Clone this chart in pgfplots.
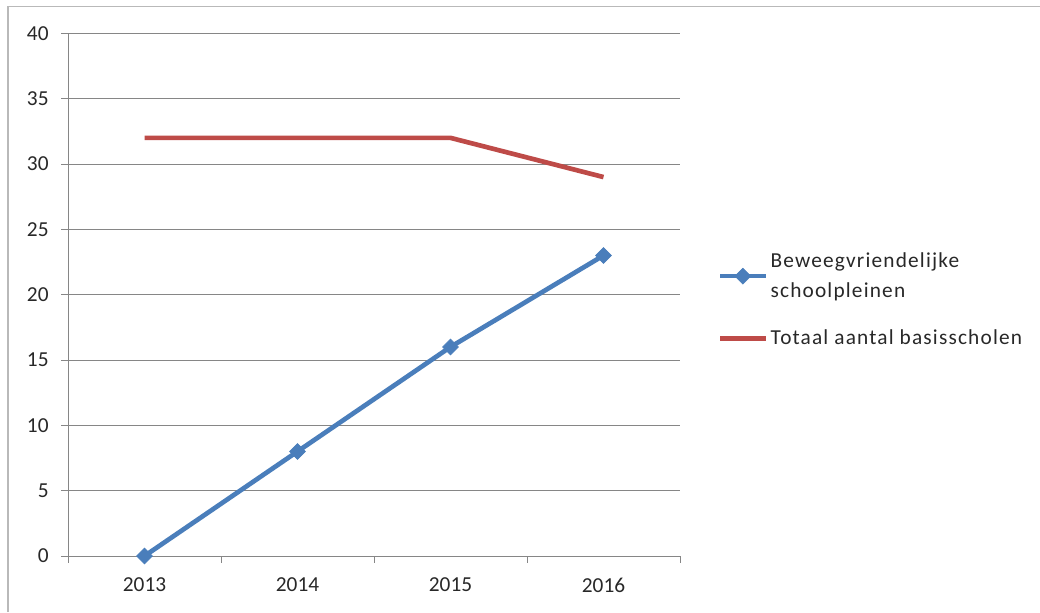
\documentclass[border=0pt]{standalone}
\usepackage{fontspec}
\setmainfont{Carlito}
\usepackage{pgfplots}
\pgfplotsset{compat=1.18}

\definecolor{xlblue}{RGB}{74,126,187}
\definecolor{xlred}{RGB}{190,75,72}
\definecolor{gridgray}{RGB}{134,134,134}
\definecolor{labelgray}{RGB}{40,40,40}

\begin{document}
\begin{tikzpicture}
% page = 1040x612 px at 0.75pt per px
\path[use as bounding box] (0,0) rectangle (780pt,459pt);
\draw[gray!55, line width=1pt] (6pt,0) -- (6pt,454pt) -- (781pt,454pt);
\begin{axis}[
    at={(51pt,42pt)}, anchor=south west,
    scale only axis,
    width=459pt, height=392pt,
    xmin=0.5, xmax=4.5,
    ymin=0, ymax=40,
    xtick={0.5,1.5,2.5,3.5,4.5},
    xticklabels={2013,2014,2015,2016},
    x tick label as interval,
    ytick={0,5,...,40},
    ymajorgrids,
    grid style={gridgray, line width=0.75pt},
    axis x line*=bottom,
    axis y line*=left,
    axis line style={-, draw=gridgray, line width=0.75pt},
    tick align=outside,
    major tick length=5pt,
    tick style={draw=gridgray, line width=0.75pt},
    /pgf/number format/assume math mode=true,
    tick label style={font=\fontsize{16}{19}\selectfont, text=labelgray},
    yticklabel style={xshift=-6pt},
    xticklabel style={yshift=-8pt},
    legend style={
        at={(1.055,0.49)}, anchor=west,
        draw=none, fill=none,
        font=\fontsize{16}{22}\selectfont\addfontfeatures{LetterSpace=5.5},
        text=labelgray,
        row sep=19pt,
        nodes={align=left},
    },
    legend cell align=left,
    legend image code/.code={
        \draw[mark repeat=2,mark phase=2,#1]
            plot coordinates {(0pt,0pt) (17pt,0pt) (34pt,0pt)};
    },
]
\addplot[color=xlblue, line width=3.5pt, mark=square*, mark size=4.2pt,
    mark options={rotate=45, line width=0.5pt}]
    coordinates {(1,0) (2,8) (3,16) (4,23)};
\addplot[color=xlred, line width=3.5pt]
    coordinates {(1,32) (2,32) (3,32) (4,29)};
\legend{{Beweegvriendelijke\\schoolpleinen}, Totaal aantal basisscholen}
\end{axis}
\end{tikzpicture}
\end{document}
